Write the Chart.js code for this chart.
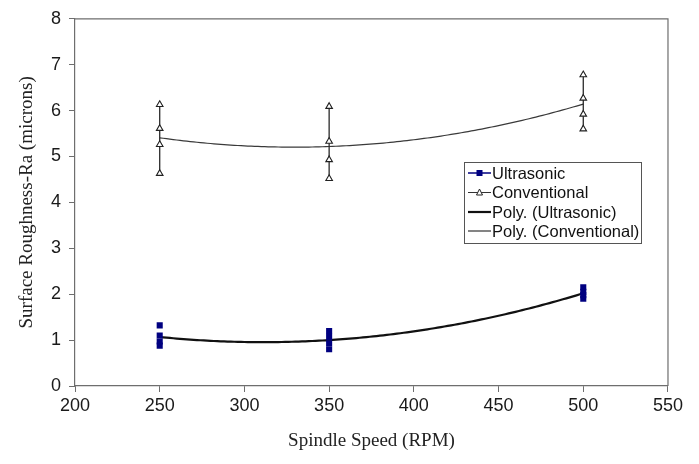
<!DOCTYPE html>
<html>
<head>
<meta charset="utf-8">
<script src="https://cdn.jsdelivr.net/npm/chart.js@4"></script>
<style>
    body { margin: 0; background: #fff; }
    .wrap { width: 699px; height: 464px; overflow: hidden; }
    #chart { display: block; }
</style>
</head>
<body>
<div class="wrap">
    <canvas id="chart" width="686" height="464"></canvas>
</div>
<script>
//spindle speeds and the four Ra readings taken at each one
const speeds = [250, 350, 500]
const ultrasonicRa = [
    [1.32, 1.10, 0.97, 0.88],
    [1.20, 1.07, 0.93, 0.80],
    [2.15, 2.05, 1.98, 1.90]
]
const conventionalRa = [
    [6.13, 5.61, 5.26, 4.63],
    [6.09, 5.33, 4.93, 4.52],
    [6.78, 6.27, 5.92, 5.60]
]
const xTicks = [200, 250, 300, 350, 400, 450, 500, 550]
const yTicks = [0, 1, 2, 3, 4, 5, 6, 7, 8]
const legendLabels = ['Ultrasonic', 'Conventional', 'Poly. (Ultrasonic)', 'Poly. (Conventional)']

const AXIS = '#6e6e6e'
const NAVY = '#000080'

//points of one series, each speed group split from the next by a gap
function buildPoints(values) {
    points = []
    for (i in speeds) {
        values[i].forEach(v => points.push({x: speeds[i], y: v}))
        points.push({x: speeds[i], y: null})
    }
    return points
}

//least squares 2nd order fit, like the spreadsheet "Poly." trendline
function polyFit(values) {
    let s = [0, 0, 0, 0, 0], t = [0, 0, 0]
    for (i in speeds) {
        values[i].forEach(v => {
            const x = speeds[i]
            for (k = 0; k < 5; k++) s[k] += Math.pow(x, k)
            for (k = 0; k < 3; k++) t[k] += v * Math.pow(x, k)
        })
    }
    const m = [
        [s[0], s[1], s[2], t[0]],
        [s[1], s[2], s[3], t[1]],
        [s[2], s[3], s[4], t[2]]
    ]
    for (c = 0; c < 3; c++) {
        for (r = c + 1; r < 3; r++) {
            const f = m[r][c] / m[c][c]
            for (k = c; k < 4; k++) m[r][k] -= f * m[c][k]
        }
    }
    const coef = [0, 0, 0]
    for (r = 2; r >= 0; r--) {
        let sum = m[r][3]
        for (k = r + 1; k < 3; k++) sum -= m[r][k] * coef[k]
        coef[r] = sum / m[r][r]
    }
    return coef
}

const trends = [
    {coef: polyFit(ultrasonicRa), color: '#111', width: 2.2},
    {coef: polyFit(conventionalRa), color: '#3a3a3a', width: 1.2}
]

const trendPlugin = {
    id: 'trendlines',
    beforeDatasetsDraw(chart) {
        const ctx = chart.ctx
        const xs = chart.scales.x, ys = chart.scales.y
        ctx.save()
        trends.forEach(tr => {
            ctx.beginPath()
            ctx.strokeStyle = tr.color
            ctx.lineWidth = tr.width
            for (x = speeds[0]; x <= speeds[speeds.length - 1]; x += 2) {
                const y = tr.coef[0] + tr.coef[1] * x + tr.coef[2] * x * x
                const px = xs.getPixelForValue(x), py = ys.getPixelForValue(y)
                if (x == speeds[0]) ctx.moveTo(px, py)
                else ctx.lineTo(px, py)
            }
            ctx.stroke()
        })
        ctx.restore()
    }
}

const legendPlugin = {
    id: 'boxLegend',
    afterDraw(chart) {
        const ctx = chart.ctx
        const left = 464, top = 162, w = 177, h = 81
        ctx.save()
        ctx.fillStyle = '#fff'
        ctx.fillRect(left, top, w, h)
        ctx.strokeStyle = '#555'
        ctx.lineWidth = 1
        ctx.strokeRect(left + 0.5, top + 0.5, w, h)
        ctx.font = '16.5px "Liberation Sans", Arial, sans-serif'
        ctx.textBaseline = 'middle'
        ctx.fillStyle = '#111'
        const rows = [173, 192.5, 212, 231]
        legendLabels.forEach((label, i) => {
            const y = rows[i]
            ctx.beginPath()
            ctx.moveTo(468, y)
            ctx.lineTo(491, y)
            if (i == 0) { ctx.strokeStyle = NAVY; ctx.lineWidth = 1.5 }
            else if (i == 1) { ctx.strokeStyle = '#333'; ctx.lineWidth = 1 }
            else if (i == 2) { ctx.strokeStyle = '#111'; ctx.lineWidth = 2.2 }
            else { ctx.strokeStyle = '#333'; ctx.lineWidth = 1.2 }
            ctx.stroke()
            if (i == 0) {
                ctx.fillStyle = NAVY
                ctx.fillRect(476.5, y - 3, 6, 6)
            } else if (i == 1) {
                ctx.beginPath()
                ctx.moveTo(479.5, y - 3.5)
                ctx.lineTo(482.5, y + 2.5)
                ctx.lineTo(476.5, y + 2.5)
                ctx.closePath()
                ctx.fillStyle = '#fff'
                ctx.fill()
                ctx.strokeStyle = '#222'
                ctx.lineWidth = 1
                ctx.stroke()
            }
            ctx.fillStyle = '#111'
            ctx.fillText(label, 492, y + 1)
        })
        ctx.restore()
    }
}

const ctx = document.getElementById('chart')

new Chart(ctx, {
    type: 'scatter',
    data: {
        datasets: [
            {
                label: legendLabels[0],
                data: buildPoints(ultrasonicRa),
                showLine: false,
                backgroundColor: NAVY,
                pointStyle: 'rect',
                pointRadius: 4.3,
                pointBorderWidth: 0
            },
            {
                label: legendLabels[1],
                data: buildPoints(conventionalRa),
                showLine: true,
                spanGaps: false,
                borderColor: '#2a2a2a',
                borderWidth: 1.3,
                backgroundColor: '#fff',
                pointBorderColor: '#222',
                pointStyle: 'triangle',
                pointRadius: 3.8,
                pointBorderWidth: 1.1
            }
        ]
    },
    options: {
        responsive: false,
        animation: false,
        events: [],
        layout: {
            padding: {top: 16, right: 17, left: 12, bottom: 8}
        },
        plugins: {
            legend: {display: false},
            tooltip: {enabled: false}
        },
        scales: {
            x: {
                type: 'linear',
                min: 200,
                max: 550,
                afterBuildTicks: (scale) => { scale.ticks = xTicks.map(v => ({value: v})) },
                afterFit: (scale) => { scale.height = 70 },
                border: {color: AXIS, width: 1.2},
                grid: {
                    drawOnChartArea: false,
                    tickLength: 6,
                    color: AXIS
                },
                ticks: {
                    color: '#1a1a1a',
                    padding: 3,
                    maxRotation: 0,
                    font: {family: '"Liberation Sans", Arial, sans-serif', size: 18}
                },
                title: {
                    display: true,
                    text: 'Spindle Speed (RPM)',
                    color: '#222',
                    font: {family: '"Liberation Serif", "Times New Roman", serif', size: 19}
                }
            },
            y: {
                min: 0,
                max: 8,
                afterBuildTicks: (scale) => { scale.ticks = yTicks.map(v => ({value: v})) },
                afterFit: (scale) => { scale.width = 63 },
                border: {color: AXIS, width: 1.2},
                grid: {
                    drawOnChartArea: false,
                    tickLength: 6,
                    color: AXIS
                },
                ticks: {
                    color: '#1a1a1a',
                    padding: 8,
                    font: {family: '"Liberation Sans", Arial, sans-serif', size: 18}
                },
                title: {
                    display: true,
                    text: 'Surface Roughness-Ra (microns)',
                    color: '#222',
                    padding: {bottom: 4},
                    font: {family: '"Liberation Serif", "Times New Roman", serif', size: 19}
                }
            }
        }
    },
    plugins: [trendPlugin, legendPlugin, {
        //top and right edges of the plot frame
        id: 'frame',
        afterDraw(chart) {
            const a = chart.chartArea, c = chart.ctx
            c.save()
            c.strokeStyle = AXIS
            c.lineWidth = 1.2
            c.beginPath()
            c.moveTo(a.left, a.top)
            c.lineTo(a.right, a.top)
            c.lineTo(a.right, a.bottom)
            c.stroke()
            c.restore()
        }
    }]
})
</script>
</body>
</html>
